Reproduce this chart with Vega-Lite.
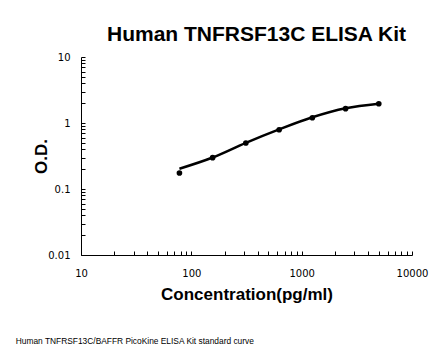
{
  "$schema": "https://vega.github.io/schema/vega-lite/v6.json",
  "background": "white",
  "padding": {"left": 15, "top": 24, "right": 5, "bottom": 5},
  "title": {"text": "Human TNFRSF13C/BAFFR PicoKine ELISA Kit standard curve", "orient": "bottom", "anchor": "start", "font": "Liberation Sans", "fontSize": 8.4, "fontWeight": "normal", "color": "black", "dx": -17, "offset": 35},
  "vconcat": [
    {
      "width": 331,
      "height": 198,
      "title": {"text": "Human TNFRSF13C ELISA Kit", "font": "Liberation Sans", "fontSize": 21, "fontWeight": "bold", "color": "black", "anchor": "middle", "frame": "group", "dx": 10, "offset": 7},
      "data": {"values": [
        {"conc": 78, "od": 0.175, "fit": 0.203},
        {"conc": 156, "od": 0.298, "fit": 0.30},
        {"conc": 312, "od": 0.497, "fit": 0.50},
        {"conc": 625, "od": 0.79, "fit": 0.80},
        {"conc": 1250, "od": 1.20, "fit": 1.22},
        {"conc": 2500, "od": 1.65, "fit": 1.67},
        {"conc": 5000, "od": 1.96, "fit": 1.96}
      ]},
      "layer": [
        {
          "mark": {"type": "line", "color": "black", "strokeWidth": 2.5, "interpolate": "monotone"},
          "encoding": {
            "x": {"field": "conc", "type": "quantitative", "scale": {"type": "log", "domain": [10, 10000], "nice": false},
              "axis": {"title": "Concentration(pg/ml)",
                "values": [10,20,30,40,50,60,70,80,90,100,200,300,400,500,600,700,800,900,1000,2000,3000,4000,5000,6000,7000,8000,9000,10000],
                "format": "~g",
                "labelExpr": "abs(log(datum.value)/LN10 - round(log(datum.value)/LN10)) < 1e-6 ? datum.label : ''",
                "labelOverlap": false, "labelFlush": false, "grid": false,
                "tickSize": -4, "tickColor": "black", "domainColor": "black", "tickWidth": 1,
                "labelFont": "DejaVu Sans", "labelFontSize": 10, "labelColor": "black", "labelPadding": 17,
                "titleFont": "Liberation Sans", "titleFontSize": 17, "titleFontWeight": "bold", "titleColor": "black", "titlePadding": 8}},
            "y": {"field": "fit", "type": "quantitative", "scale": {"type": "log", "domain": [0.01, 10], "nice": false},
              "axis": {"title": "O.D.",
                "values": [0.01,0.02,0.03,0.04,0.05,0.06,0.07,0.08,0.09,0.1,0.2,0.3,0.4,0.5,0.6,0.7,0.8,0.9,1,2,3,4,5,6,7,8,9,10],
                "format": "~g",
                "labelExpr": "abs(log(datum.value)/LN10 - round(log(datum.value)/LN10)) < 1e-6 ? datum.label : ''",
                "labelOverlap": false, "labelFlush": false, "grid": false,
                "tickSize": -4, "tickColor": "black", "domainColor": "black", "tickWidth": 1,
                "labelFont": "DejaVu Sans", "labelFontSize": 10, "labelColor": "black", "labelPadding": 15,
                "titleFont": "Liberation Sans", "titleFontSize": 17, "titleFontWeight": "bold", "titleColor": "black", "titlePadding": -3}}
          }
        },
        {
          "mark": {"type": "point", "filled": true, "color": "black", "opacity": 1, "size": 32},
          "encoding": {
            "x": {"field": "conc", "type": "quantitative"},
            "y": {"field": "od", "type": "quantitative"}
          }
        }
      ]
    }
  ],
  "config": {"view": {"stroke": null}}
}
